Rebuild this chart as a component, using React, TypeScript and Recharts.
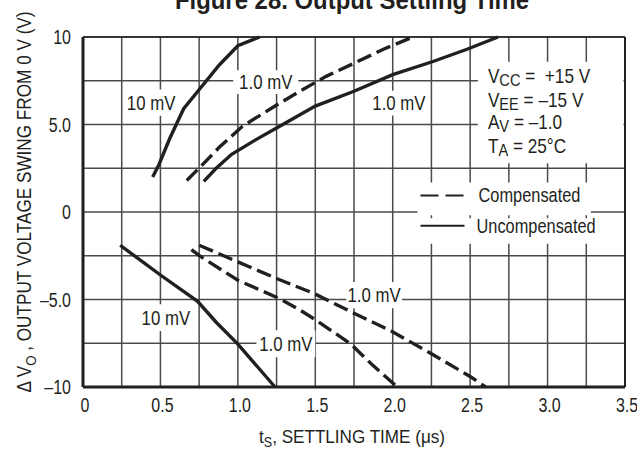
import React from "react";
import {
  LineChart,
  Line,
  XAxis,
  YAxis,
  CartesianGrid,
  ReferenceArea,
  ReferenceLine,
} from "recharts";

const FONT = "'Liberation Sans', Arial, Helvetica, sans-serif";
const INK = "#231f20";
const GRID = "#4a4a4a";
const NARROW = 0.82;

// grid every 0.25 µs / 2.5 V, labels on every other line
const T_TICKS = [0, 0.25, 0.5, 0.75, 1, 1.25, 1.5, 1.75, 2, 2.25, 2.5, 2.75, 3, 3.25, 3.5];
const V_TICKS = [-10, -7.5, -5, -2.5, 0, 2.5, 5, 7.5, 10];
const T_LABELS: Record<string, string> = {
  "0": "0", "0.5": "0.5", "1": "1.0", "1.5": "1.5", "2": "2.0", "2.5": "2.5", "3": "3.0", "3.5": "3.5",
};
const V_LABELS: Record<string, string> = {
  "10": "10", "5": "5.0", "0": "0", "-5": "–5.0", "-10": "–10",
};

// [t (µs), ΔVo (V)]
// positive swing
const POS_10MV_UNCOMP: [number, number][] = [
  [0.45, 2.0], [0.49, 2.7], [0.56, 4.2], [0.65, 5.9], [0.76, 7.1], [0.88, 8.4], [1.0, 9.5], [1.14, 10],
];
const POS_1MV_COMP: [number, number][] = [
  [0.67, 1.8], [0.76, 2.6], [0.88, 3.7], [1.03, 4.9], [1.23, 6.0], [1.4, 6.9], [1.57, 7.75],
  [1.75, 8.5], [1.94, 9.3], [2.13, 10],
];
const POS_1MV_UNCOMP: [number, number][] = [
  [0.78, 1.75], [0.86, 2.5], [0.96, 3.3], [1.12, 4.15], [1.27, 4.9], [1.5, 6.05], [1.75, 6.9],
  [2.0, 7.85], [2.26, 8.6], [2.48, 9.3], [2.68, 10],
];
// negative swing
const NEG_10MV_UNCOMP: [number, number][] = [
  [0.24, -1.9], [0.5, -3.6], [0.74, -5.1], [0.86, -6.3], [1.0, -7.55], [1.24, -10],
];
const NEG_1MV_A: [number, number][] = [
  [0.7, -2.15], [0.76, -2.55], [1.0, -3.9], [1.27, -4.95], [1.4, -5.6], [1.5, -6.15],
  [1.73, -7.55], [1.87, -8.75], [2.03, -10],
];
const NEG_1MV_B: [number, number][] = [
  [0.75, -1.9], [1.0, -2.85], [1.25, -3.8], [1.49, -4.65], [1.74, -5.74], [1.99, -6.8],
  [2.25, -8.1], [2.5, -9.4], [2.6, -10],
];

const CURVES = [
  { key: "pos10", pts: POS_10MV_UNCOMP, dashed: false },
  { key: "pos1c", pts: POS_1MV_COMP, dashed: true },
  { key: "pos1u", pts: POS_1MV_UNCOMP, dashed: false },
  { key: "neg10", pts: NEG_10MV_UNCOMP, dashed: false },
  { key: "neg1a", pts: NEG_1MV_A, dashed: true },
  { key: "neg1b", pts: NEG_1MV_B, dashed: true },
];

// curve labels: text + the white patch behind it (data units)
const TAGS = [
  { text: "10 mV", x: [0.27, 0.61], y: [5.5, 7.0] },
  { text: "1.0 mV", x: [0.97, 1.39], y: [6.75, 8.1] },
  { text: "1.0 mV", x: [1.84, 2.24], y: [5.52, 6.93] },
  { text: "1.0 mV", x: [1.7, 2.06], y: [-5.5, -4.0] },
  { text: "10 mV", x: [0.37, 0.7], y: [-6.8, -5.27] },
  { text: "1.0 mV", x: [1.12, 1.5], y: [-8.3, -6.76] },
];

const CONDITIONS: [string, string, string][] = [
  ["V", "CC", " =  +15 V"],
  ["V", "EE", " = –15 V"],
  ["A", "V", " = –1.0"],
  ["T", "A", " = 25°C"],
];

const toPts = (a: [number, number][]) => a.map(([t, v]) => ({ t, v }));

function Narrow({ x, y, anchor = "start", size = 19.5, sx = NARROW, weight, children }: any) {
  return (
    <g transform={`translate(${x},${y}) scale(${sx},1)`}>
      <text
        x={0}
        y={0}
        textAnchor={anchor}
        fontSize={size}
        fontFamily={FONT}
        fontWeight={weight}
        fill={INK}
        style={{ whiteSpace: "pre" }}
      >
        {children}
      </text>
    </g>
  );
}

function XTick({ x, y, payload }: any) {
  const s = T_LABELS[String(payload.value)];
  if (!s) return <g />;
  return <Narrow x={x + 2} y={y + 14} anchor="middle">{s}</Narrow>;
}

function YTick({ x, y, payload }: any) {
  const s = V_LABELS[String(payload.value)];
  if (!s) return <g />;
  return <Narrow x={x} y={y + 7} anchor="end">{s}</Narrow>;
}

function XTitle({ viewBox }: any) {
  const cx = viewBox.x + viewBox.width / 2 - 2;
  return (
    <Narrow x={cx} y={viewBox.y + 56} anchor="middle" size={19} sx={0.9}>
      <tspan>t</tspan>
      <tspan fontSize={14} dy={4}>S</tspan>
      <tspan dy={-4}>, SETTLING TIME (μs)</tspan>
    </Narrow>
  );
}

function YTitle({ viewBox }: any) {
  const cy = viewBox.y + viewBox.height / 2 - 10;
  return (
    <g transform={`translate(31,${cy}) rotate(-90) scale(0.88,1)`}>
      <text x={0} y={0} textAnchor="middle" fontSize={19.5} fontFamily={FONT} fill={INK}>
        <tspan>Δ V</tspan>
        <tspan fontSize={15} dy={5}>O</tspan>
        <tspan dy={-5}> , OUTPUT VOLTAGE SWING FROM 0 V (V)</tspan>
      </text>
    </g>
  );
}

function Tag({ viewBox, text }: any) {
  const { x, y, width, height } = viewBox;
  return (
    <Narrow x={x + width / 2} y={y + height / 2 + 7} anchor="middle" size={20.5}>
      {text}
    </Narrow>
  );
}

function Conditions({ viewBox }: any) {
  const { x, y } = viewBox;
  const base = [21, 45, 67.5, 91.5];
  return (
    <g>
      {CONDITIONS.map(([a, sub, rest], i) => (
        <Narrow key={i} x={x + 10} y={y + base[i]} size={20} sx={0.86}>
          <tspan>{a}</tspan>
          <tspan fontSize={17} dy={3}>{sub}</tspan>
          <tspan dy={-3}>{rest}</tspan>
        </Narrow>
      ))}
    </g>
  );
}

function KeyEntry({ viewBox, label, dashed, mid, textX }: any) {
  const { x, y } = viewBox;
  const cy = y + mid;
  return (
    <g>
      <line
        x1={x + 3}
        x2={x + 47}
        y1={cy}
        y2={cy}
        stroke={INK}
        strokeWidth={2}
        strokeDasharray={dashed ? "18 7" : undefined}
      />
      <Narrow x={x + textX} y={cy + 7} size={19.5} sx={0.84}>{label}</Narrow>
    </g>
  );
}

export default function App() {
  return (
    <div style={{ position: "absolute", left: 0, top: 0, width: 637, height: 450, background: "#fff" }}>
      <LineChart width={637} height={450} margin={{ top: 37, right: 12, left: 0, bottom: 0 }}>
        <CartesianGrid stroke={GRID} strokeWidth={1.5} />
        <XAxis
          type="number"
          dataKey="t"
          domain={[0, 3.5]}
          ticks={T_TICKS}
          interval={0}
          height={63}
          tickLine={false}
          tickSize={0}
          tickMargin={11}
          axisLine={{ stroke: INK, strokeWidth: 3 }}
          tick={<XTick />}
          label={<XTitle />}
        />
        <YAxis
          type="number"
          domain={[-10, 10]}
          ticks={V_TICKS}
          interval={0}
          width={83}
          tickLine={false}
          tickSize={0}
          tickMargin={12}
          axisLine={{ stroke: INK, strokeWidth: 3 }}
          tick={<YTick />}
          label={<YTitle />}
        />
        <ReferenceLine x={3.5} stroke={INK} strokeWidth={2} />
        <ReferenceLine y={10} stroke={INK} strokeWidth={1.6} />

        {TAGS.map((g, i) => (
          <ReferenceArea
            key={`tag${i}`}
            x1={g.x[0]}
            x2={g.x[1]}
            y1={g.y[0]}
            y2={g.y[1]}
            fill="#fff"
            fillOpacity={1}
            stroke="none"
            label={<Tag text={g.text} />}
          />
        ))}
        <ReferenceArea
          x1={2.55}
          x2={3.49}
          y1={2.79}
          y2={8.59}
          fill="#fff"
          fillOpacity={1}
          stroke="none"
          label={<Conditions />}
        />
        <ReferenceArea
          x1={2.16}
          x2={3.28}
          y1={-0.19}
          y2={1.69}
          fill="#fff"
          fillOpacity={1}
          stroke="none"
          label={<KeyEntry label="Compensated" dashed mid={13} textX={61} />}
        />
        <ReferenceArea
          x1={2.16}
          x2={3.38}
          y1={-1.81}
          y2={-0.36}
          fill="#fff"
          fillOpacity={1}
          stroke="none"
          label={<KeyEntry label="Uncompensated" dashed={false} mid={7.5} textX={59} />}
        />

        {CURVES.map((c) => (
          <Line
            key={c.key}
            data={toPts(c.pts)}
            dataKey="v"
            type="linear"
            stroke={INK}
            strokeWidth={3.4}
            strokeDasharray={c.dashed ? "15 6" : undefined}
            dot={false}
            activeDot={false}
            isAnimationActive={false}
          />
        ))}
      </LineChart>
      <svg
        width={637}
        height={450}
        style={{ position: "absolute", left: 0, top: 0, pointerEvents: "none" }}
      >
        <Narrow x={352} y={9} anchor="middle" size={26} sx={0.92} weight="bold">
          Figure 28. Output Settling Time
        </Narrow>
      </svg>
    </div>
  );
}
